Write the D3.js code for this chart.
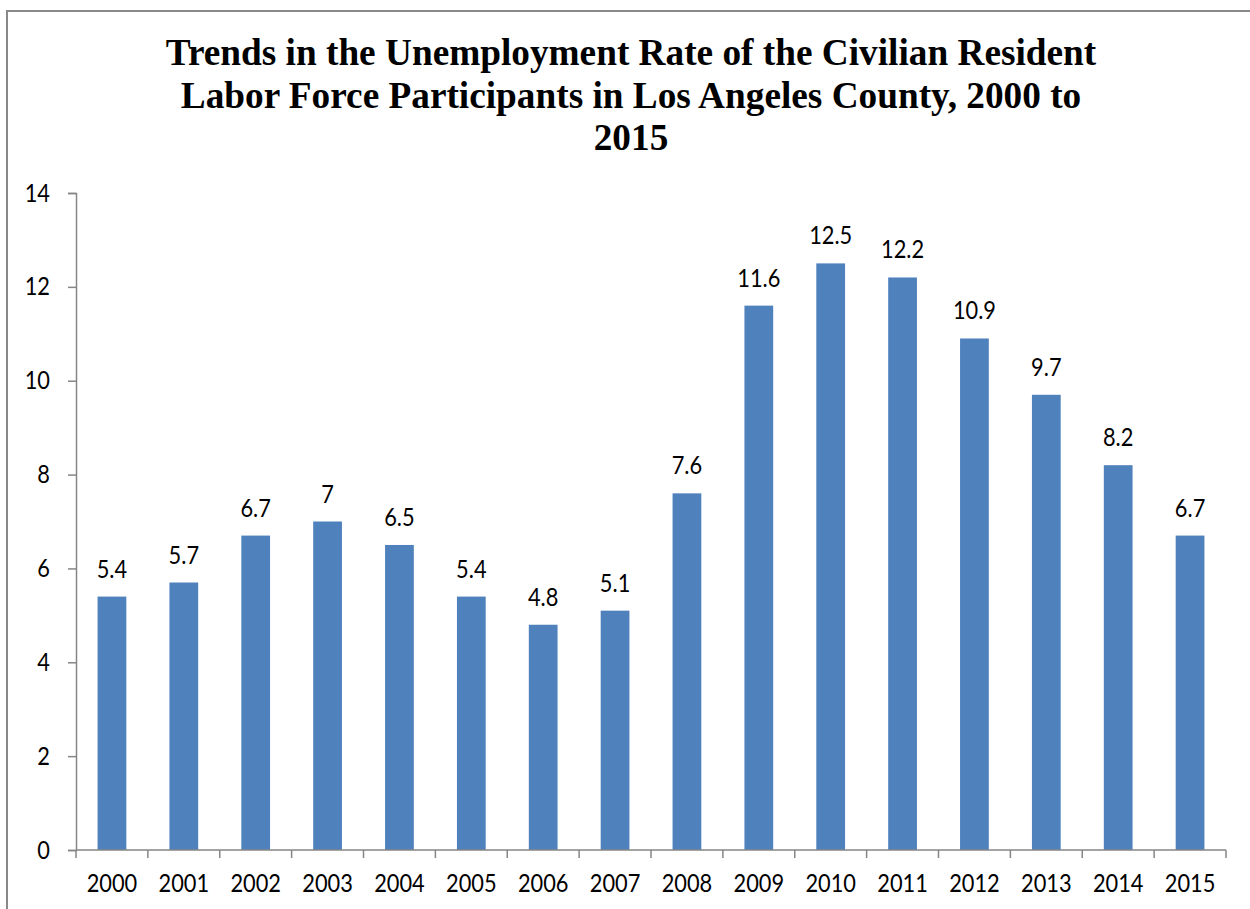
<!DOCTYPE html>
<html><head><meta charset="utf-8">
<script src="https://cdn.jsdelivr.net/npm/d3@7"></script>
<style>body{margin:0;background:#fff}svg{display:block}</style>
</head><body>
<svg id="c" width="1250" height="909"></svg>
<script>
const years = ["2000","2001","2002","2003","2004","2005","2006","2007","2008","2009","2010","2011","2012","2013","2014","2015"];
const rates = [5.4,5.7,6.7,7,6.5,5.4,4.8,5.1,7.6,11.6,12.5,12.2,10.9,9.7,8.2,6.7];
const yTicks = [0,2,4,6,8,10,12,14];
const titleLines = ["Trends in the Unemployment Rate of the Civilian Resident","Labor Force Participants in Los Angeles County, 2000 to","2015"];

(function(){
const svg = d3.select("#c");
const SX = 0.89;
// frame
svg.append("rect").attr("x",7).attr("y",11).attr("width",1250).attr("height",1000)
  .attr("fill","none").attr("stroke","#898989").attr("stroke-width",2);

const pLeft=76, pRight=1226, pTop=193, pBottom=850;
const x = d3.scaleBand().domain(years).range([pLeft,pRight]).paddingInner(0.6).paddingOuter(0.3);
const y = d3.scaleLinear().domain([0,14]).range([pBottom,pTop]);

function sText(g, tx, ty, str, opts){
  const t = g.append("text").attr("transform",`translate(${tx},${ty}) scale(${opts.sx||SX},1)`)
    .attr("text-anchor",opts.anchor||"middle").attr("font-family",opts.family||"Lato, 'Open Sans', sans-serif")
    .attr("font-size",opts.size).attr("font-weight",opts.weight||"normal").attr("fill","#000").text(str);
  if(opts.dy) t.attr("dy",opts.dy);
  return t;
}

// title
const tg = svg.append("g");
const tl = titleLines.map((l,i)=>
  sText(tg, 631, 65+i*42.5, l, {size:37, family:"'Liberation Serif','Times New Roman',serif", weight:"bold", sx:1}));
// fit first line width to reference (~931px)
const w0 = tl[0].node().getComputedTextLength();
const f = w0>0 ? 931/w0 : 1;
tl.forEach((t,i)=>t.attr("transform",`translate(631,${65+i*42.5}) scale(${f},1)`));

// bars
svg.append("g").selectAll("rect").data(rates).join("rect")
  .attr("x",(d,i)=>x(years[i])).attr("width",x.bandwidth())
  .attr("y",d=>y(d)).attr("height",d=>y(0)-y(d)).attr("fill","#4F81BD");

// value labels
const lg = svg.append("g");
rates.forEach((d,i)=>{
  sText(lg, x(years[i])+x.bandwidth()/2, y(d)-19, String(d), {size:24.5});
});

// y axis
const ya = svg.append("g").attr("transform",`translate(${pLeft},0)`)
  .call(d3.axisLeft(y).tickValues(yTicks).tickSize(8).tickPadding(18).tickFormat(d3.format("d")));
ya.select(".domain").attr("stroke","#868686").attr("stroke-width",1.5);
ya.selectAll(".tick line").attr("stroke","#868686").attr("stroke-width",1.5);
ya.selectAll(".tick text").remove();
yTicks.forEach(v=>{
  sText(svg, 50, y(v), String(v), {size:24.5, anchor:"end", dy:"0.35em"});
});

// x axis
const xa = svg.append("g").attr("transform",`translate(0,${pBottom})`);
xa.append("line").attr("x1",pLeft).attr("x2",pRight).attr("y1",0).attr("y2",0)
  .attr("stroke","#868686").attr("stroke-width",1.5);
const step = (pRight-pLeft)/years.length;
d3.range(years.length+1).forEach(i=>{
  xa.append("line").attr("x1",pLeft+i*step).attr("x2",pLeft+i*step).attr("y1",0).attr("y2",8)
    .attr("stroke","#868686").attr("stroke-width",1.5);
});
years.forEach(yr=>{
  sText(svg, x(yr)+x.bandwidth()/2, 892, yr, {size:24.5});
});
})();
</script>
</body></html>
